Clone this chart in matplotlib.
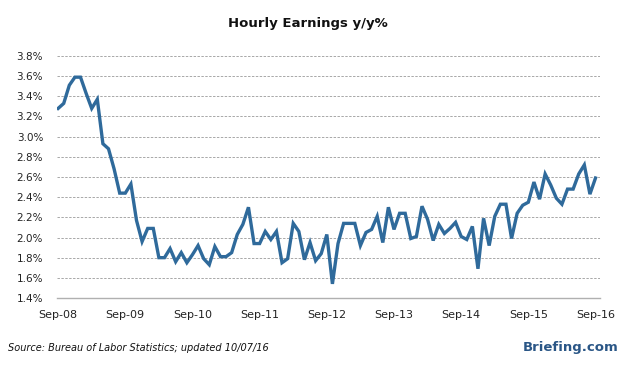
import matplotlib
matplotlib.use("Agg")
import matplotlib.pyplot as plt
import numpy as np

values = [3.28, 3.33, 3.51, 3.59, 3.59, 3.43, 3.28, 3.37, 2.93, 2.88,
          2.68, 2.44, 2.44, 2.53, 2.17, 1.96, 2.09, 2.09, 1.80, 1.80,
          1.89, 1.76, 1.85, 1.75, 1.83, 1.92, 1.79, 1.73, 1.91, 1.81,
          1.81, 1.85, 2.03, 2.13, 2.30, 1.94, 1.94, 2.06, 1.98, 2.06,
          1.75, 1.79, 2.14, 2.06, 1.78, 1.95, 1.77, 1.84, 2.03, 1.54,
          1.94, 2.14, 2.14, 2.14, 1.92, 2.05, 2.08, 2.21, 1.95, 2.30,
          2.08, 2.24, 2.24, 1.99, 2.01, 2.31, 2.18, 1.97, 2.13, 2.04,
          2.09, 2.15, 2.01, 1.98, 2.11, 1.69, 2.19, 1.92, 2.21, 2.33,
          2.33, 1.99, 2.24, 2.32, 2.35, 2.55, 2.38, 2.63, 2.52, 2.39,
          2.33, 2.48, 2.48, 2.63, 2.72, 2.43, 2.59]
tick_labels = ["Sep-08", "Sep-09", "Sep-10", "Sep-11", "Sep-12",
               "Sep-13", "Sep-14", "Sep-15", "Sep-16"]
y_ticks = [1.4, 1.6, 1.8, 2.0, 2.2, 2.4, 2.6, 2.8, 3.0, 3.2, 3.4, 3.6, 3.8]

plt.rcParams['font.family'] = ['DejaVu Sans']

fig = plt.figure(figsize=(6.26, 3.67), dpi=100)
ax = fig.add_axes([57/626, 1-298/367, 543/626, 242/367])

x = np.arange(len(values))
ax.plot(x, values, color="#2f6a9b", lw=2.4, solid_joinstyle="miter", zorder=3)

ax.set_ylim(1.4, 3.8)
ax.set_xlim(-0.2, 96.8)
ax.set_yticks(y_ticks)
ax.set_yticklabels([f"{v:.1f}%" for v in y_ticks], fontsize=7.5, color="#222222")
ax.set_xticks(np.arange(0, 97, 12))
ax.set_xticklabels(tick_labels, fontsize=8, color="#222222")
ax.tick_params(axis="both", length=0)
ax.tick_params(axis="y", pad=10)
ax.tick_params(axis="x", pad=9)

for v in y_ticks[1:]:
    ax.axhline(v, color="#a8a8a8", lw=0.7, ls=(0, (2.5, 1.5)), zorder=1)

for s in ["top", "right", "left"]:
    ax.spines[s].set_visible(False)
ax.spines["bottom"].set_color("#b0b0b0")
ax.spines["bottom"].set_linewidth(1.0)

fig.text(308/626, 1-24/367, "Hourly Earnings y/y%", ha="center", va="center",
         fontsize=9.5, fontweight="bold", color="#111111")
fig.text(8/626, 1-348/367, "Source: Bureau of Labor Statistics; updated 10/07/16",
         ha="left", va="center", fontsize=7, style="italic", color="#111111")
fig.text(618/626, 1-348/367, "Briefing.com", ha="right", va="center",
         fontsize=9.5, fontweight="bold", color="#2a5686")

fig.savefig("out.png", dpi=100)
